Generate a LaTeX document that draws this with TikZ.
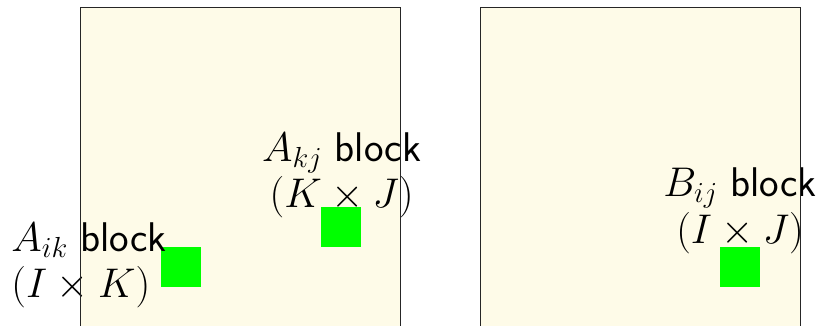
\RequirePackage{fix-cm}
\documentclass[tikz,border=0pt]{standalone}
\begin{document}
\begin{tikzpicture}[x=1cm,y=1cm,
  matfillst/.style={fill=matfill},
  matline/.style={draw=black!85, line width=0.7pt},
  blk/.style={fill=green, draw=none, minimum size=1cm, inner sep=0pt, anchor=north west},
  lbl/.style={inner sep=0pt, font=\fontsize{29.5}{33}\selectfont}]
\definecolor{matfill}{RGB}{254,251,232}
\useasboundingbox (0,0) rectangle (20.5,-8.15);
\path[matfillst] (2.02,-0.175) rectangle (10.02,-8.3);
\path[matfillst] (12.0,-0.175) rectangle (20.0,-8.3);
\node[blk] (aik) at (4.02,-6.175) {};
\node[blk] (akj) at (8.02,-5.175) {};
\node[blk] (bij) at (18.0,-6.175) {};
\node[lbl, align=left, anchor=north west] (laik) at (0.28,-5.55) {$A_{ik}$ \textsf{block}\\$(I\times K)$};
\node[lbl, align=center, anchor=north] (lakj) at (8.54,-3.3) {$A_{kj}$ \textsf{block}\\$(K\times J)$};
\node[lbl, align=center, anchor=north] (lbij) at (18.5,-4.19) {$B_{ij}$ \textsf{block}\\$(I\times J)$};
\path[matline] (2.02,-0.175) rectangle (10.02,-8.3);
\path[matline] (12.0,-0.175) rectangle (20.0,-8.3);
\end{tikzpicture}
\end{document}
